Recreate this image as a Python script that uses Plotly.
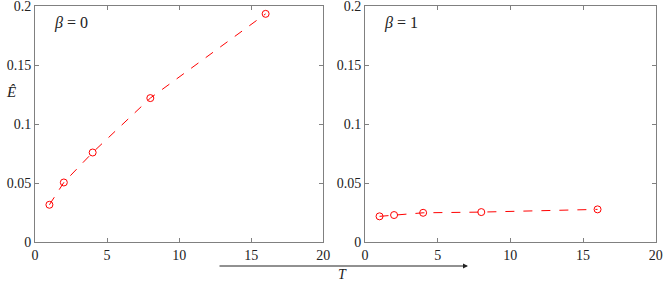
import plotly.graph_objects as go

T = [1, 2, 4, 8, 16]
E_beta0 = [0.0318, 0.0507, 0.0761, 0.1222, 0.1936]
E_beta1 = [0.0220, 0.0231, 0.0250, 0.0256, 0.0279]
x_ticks = [0, 5, 10, 15, 20]
y_ticks = [0, 0.05, 0.1, 0.15, 0.2]
y_tick_labels = ["0", "0.05", "0.1", "0.15", "0.2"]

W, H = 664, 282
FONT = "Liberation Serif, DejaVu Serif, serif"
RED = "#ff0000"

fig = go.Figure()
for i, ys in enumerate([E_beta0, E_beta1]):
    fig.add_trace(go.Scatter(
        x=T, y=ys, mode="lines+markers",
        line=dict(color=RED, width=1, dash="dash"),
        marker=dict(symbol="circle-open", size=7, color=RED, line=dict(width=1, color=RED)),
        xaxis="x" if i == 0 else "x2", yaxis="y" if i == 0 else "y2",
        showlegend=False,
    ))

ax_common = dict(
    showline=True, linecolor="#808080", linewidth=1, mirror="ticks",
    ticks="inside", ticklen=4, tickcolor="#808080",
    showgrid=False, zeroline=False, ticklabeloverflow="allow", automargin=False,
    tickfont=dict(family=FONT, size=14, color="#222"),
)
ydom = [1 - 242.3 / H, 1 - 6.3 / H]
yr = [-1e-6, 0.2 + 1e-6]
xr = [-1e-4, 20 + 1e-4]
fig.update_layout(
    width=W, height=H, margin=dict(l=0, r=0, t=0, b=0, autoexpand=False),
    paper_bgcolor="white", plot_bgcolor="white",
    font=dict(family=FONT),
    xaxis=dict(domain=[35 / W, 323.3 / W], range=xr, tickvals=x_ticks, anchor="y", **ax_common),
    yaxis=dict(domain=ydom, range=yr, tickvals=y_ticks, ticktext=y_tick_labels, anchor="x", **ax_common),
    xaxis2=dict(domain=[365 / W, 655.7 / W], range=xr, tickvals=x_ticks, anchor="y2", **ax_common),
    yaxis2=dict(domain=ydom, range=yr, tickvals=y_ticks, ticktext=y_tick_labels, anchor="x2", **ax_common),
)

fig.add_annotation(xref="x domain", yref="y domain", x=0.06, y=0.93, text="<i>β</i> = 0",
                   showarrow=False, xanchor="left", yanchor="middle",
                   font=dict(family=FONT, size=16, color="#222"))
fig.add_annotation(xref="x2 domain", yref="y2 domain", x=0.06, y=0.93, text="<i>β</i> = 1",
                   showarrow=False, xanchor="left", yanchor="middle",
                   font=dict(family=FONT, size=16, color="#222"))
fig.add_annotation(xref="paper", yref="paper", x=11 / W, y=1 - 92 / H, text="<i>Ê</i>",
                   showarrow=False, xanchor="center", yanchor="middle",
                   font=dict(family=FONT, size=15, color="#222"))
# arrow under axes
fig.add_annotation(xref="paper", yref="paper", x=468 / W, y=1 - 266 / H, text="",
                   showarrow=True, axref="pixel", ayref="pixel", ax=-250, ay=0,
                   arrowhead=2, arrowsize=1, arrowwidth=1, arrowcolor="#222")
fig.add_annotation(xref="paper", yref="paper", x=342 / W, y=1 - 274 / H, text="<i>T</i>",
                   showarrow=False, xanchor="center", yanchor="middle",
                   font=dict(family=FONT, size=14, color="#222"))

fig.write_html("out.html", config={"displayModeBar": False},
               post_script="document.body.style.margin='0';document.body.style.overflow='hidden';")
